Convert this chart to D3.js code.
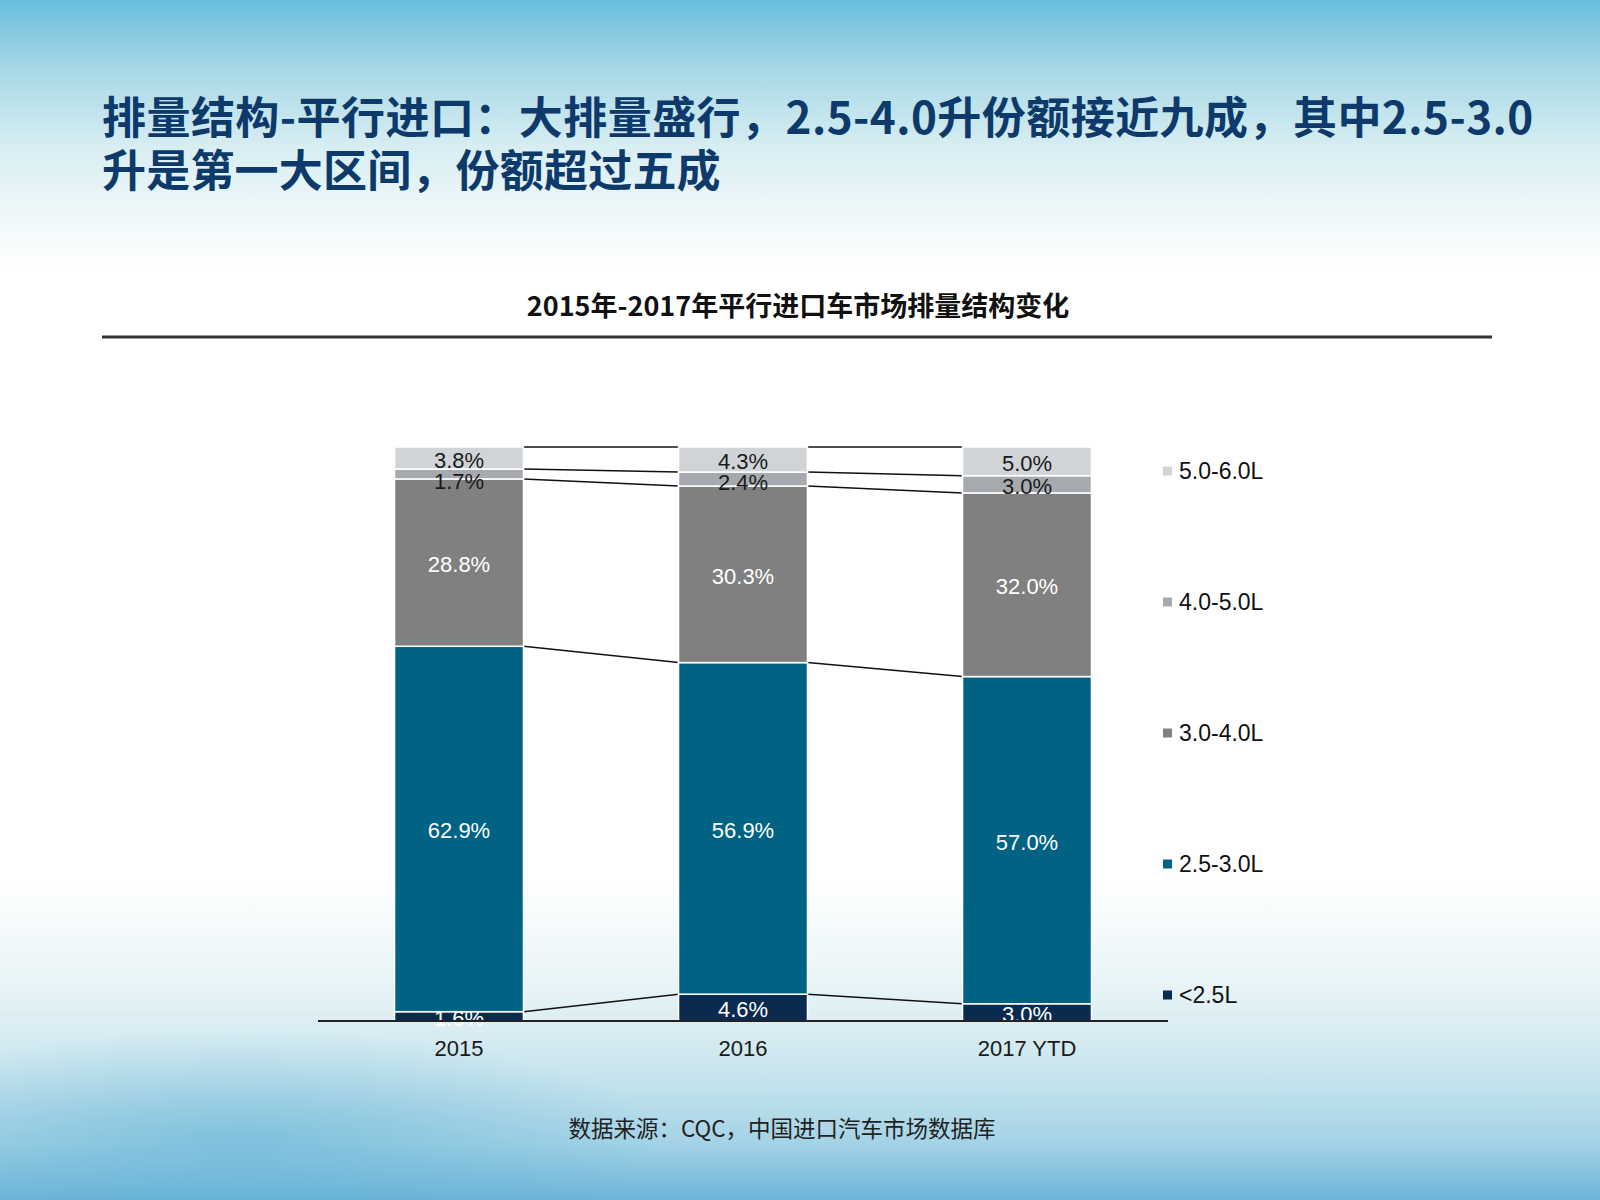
<!DOCTYPE html>
<html>
<head>
<meta charset="utf-8">
<script src="https://cdn.jsdelivr.net/npm/d3@7"></script>
<style>
  body { margin: 0; padding: 0; }
  svg { display: block; }
</style>
</head>
<body>
<script>
// chart data
const years = ["2015", "2016", "2017 YTD"];
const bands = ["<2.5L", "2.5-3.0L", "3.0-4.0L", "4.0-5.0L", "5.0-6.0L"];
const under25 = [1.6, 4.6, 3.0];
const from25to30 = [62.9, 56.9, 57.0];
const from30to40 = [28.8, 30.3, 32.0];
const from40to50 = [1.7, 2.4, 3.0];
const from50to60 = [3.8, 4.3, 5.0];

const colors = ["#0b2a50", "#006384", "#808080", "#a6a9ae", "#d1d4d7"];
const labelColors = ["#fff", "#fff", "#fff", "#1a1a1a", "#1a1a1a"];

const mainTitle = ["排量结构-平行进口：大排量盛行，2.5-4.0升份额接近九成，其中2.5-3.0",
                   "升是第一大区间，份额超过五成"];
const chartTitle = "2015年-2017年平行进口车市场排量结构变化";
const source = "数据来源：CQC，中国进口汽车市场数据库";

const W = 1600, H = 1200;
const cjk = "'Noto Sans CJK SC', 'Noto Sans', sans-serif";
const latin = "'Liberation Sans', Arial, sans-serif";

const svg = d3.select("body").append("svg").attr("width", W).attr("height", H);
const defs = svg.append("defs");

function drawBackground() {
    let top = defs.append("linearGradient").attr("id", "bgTop")
        .attr("x1", 0).attr("y1", 0).attr("x2", 0).attr("y2", 1);
    [["0%", "#69bedd"], ["25%", "#a6d8e6"], ["55%", "#d8eef2"], ["85%", "#f4fafb"], ["100%", "#ffffff"]]
        .forEach(s => top.append("stop").attr("offset", s[0]).attr("stop-color", s[1]));

    let bottom = defs.append("linearGradient").attr("id", "bgBottom")
        .attr("x1", 0).attr("y1", 0).attr("x2", 0).attr("y2", 1);
    [["0%", "#ffffff"], ["35%", "#e6f3f6"], ["60%", "#c9e5ee"], ["82%", "#a4d3e6"], ["100%", "#6cb4d8"]]
        .forEach(s => bottom.append("stop").attr("offset", s[0]).attr("stop-color", s[1]));

    let blob = defs.append("radialGradient").attr("id", "bgBlob")
        .attr("cx", 0.5).attr("cy", 0.5).attr("r", 0.5);
    [["0%", "#5aaed3", 0.5], ["100%", "#5aaed3", 0]]
        .forEach(s => blob.append("stop").attr("offset", s[0]).attr("stop-color", s[1]).attr("stop-opacity", s[2]));

    svg.append("rect").attr("width", W).attr("height", H).attr("fill", "#fff");
    svg.append("rect").attr("width", W).attr("height", 270).attr("fill", "url(#bgTop)");
    svg.append("rect").attr("y", 880).attr("width", W).attr("height", H - 880).attr("fill", "url(#bgBottom)");
    svg.append("ellipse").attr("cx", 240).attr("cy", 1140).attr("rx", 420).attr("ry", 110)
        .attr("fill", "url(#bgBlob)");
}

function drawTitles() {
    svg.append("g").selectAll("text").data(mainTitle).join("text")
        .attr("x", 102)
        .attr("y", (d, i) => 115 + i * 53)
        .attr("dominant-baseline", "central")
        .style("font", `bold 44px ${cjk}`)
        .style("letter-spacing", (d, i) => i === 0 ? "0.45px" : "0.2px")
        .attr("fill", "#0d3a6b")
        .text(d => d);

    svg.append("text")
        .attr("x", 798).attr("y", 304)
        .attr("text-anchor", "middle")
        .attr("dominant-baseline", "central")
        .style("font", `bold 27px ${cjk}`)
        .attr("fill", "#111")
        .text(chartTitle);

    svg.append("line")
        .attr("x1", 102).attr("x2", 1492).attr("y1", 337).attr("y2", 337)
        .attr("stroke", "#333").attr("stroke-width", 3);

    svg.append("text")
        .attr("x", 782).attr("y", 1127)
        .attr("text-anchor", "middle")
        .attr("dominant-baseline", "central")
        .style("font", `22.5px ${cjk}`)
        .attr("fill", "#222")
        .text(source);
}

function drawChart() {
    let series = [under25, from25to30, from30to40, from40to50, from50to60];
    let rows = years.map((y, i) => {
        let r = { year: y };
        bands.forEach((b, j) => r[b] = series[j][i]);
        return r;
    });
    let stacked = d3.stack().keys(bands).offset(d3.stackOffsetExpand)(rows);

    let x = d3.scaleBand(years, [317, 1169]).paddingInner(0.546).paddingOuter(0.273);
    let y = d3.scaleLinear([0, 1], [1021, 447]);
    let bw = x.bandwidth();

    let g = svg.append("g");

    // series lines between bars
    let links = [];
    stacked.forEach(s => {
        for (let i = 0; i < years.length - 1; i++) {
            links.push({ x1: x(years[i]) + bw, y1: y(s[i][1]), x2: x(years[i + 1]), y2: y(s[i + 1][1]) });
        }
    });
    g.selectAll("line.link").data(links).join("line")
        .attr("class", "link")
        .attr("x1", d => d.x1).attr("y1", d => d.y1)
        .attr("x2", d => d.x2).attr("y2", d => d.y2)
        .attr("stroke", "#111").attr("stroke-width", 1.5);

    let layers = g.selectAll("g.layer").data(stacked).join("g")
        .attr("class", "layer")
        .attr("fill", (d, i) => colors[i]);

    layers.selectAll("rect").data(d => d).join("rect")
        .attr("x", d => x(d.data.year))
        .attr("y", d => y(d[1]))
        .attr("width", bw)
        .attr("height", d => y(d[0]) - y(d[1]))
        .attr("stroke", "#fff")
        .attr("stroke-width", 1.5);

    // axis line and category labels
    let axis = g.append("g").attr("transform", "translate(0,1021)")
        .call(d3.axisBottom(x).tickSize(0).tickPadding(19).tickSizeOuter(0));
    axis.select(".domain").attr("d", "M318,0H1168").attr("stroke", "#222").attr("stroke-width", 2);
    axis.selectAll("text").style("font", `22px ${latin}`).attr("fill", "#1a1a1a");

    // value label positions, pushed down when too close to the label above
    let labelY = stacked.map(s => s.map(d => (y(d[0]) + y(d[1])) / 2 + 2));
    for (let i = 0; i < years.length; i++) {
        for (let k = bands.length - 2; k >= 0; k--) {
            labelY[k][i] = Math.max(labelY[k][i], labelY[k + 1][i] + 21);
            if (k < 3) labelY[k][i] = (y(stacked[k][i][0]) + y(stacked[k][i][1])) / 2 + 2;
        }
    }

    layers.each(function (s, k) {
        d3.select(this).selectAll("text").data(s).join("text")
            .attr("x", d => x(d.data.year) + bw / 2)
            .attr("y", (d, i) => labelY[k][i])
            .attr("text-anchor", "middle")
            .attr("dominant-baseline", "central")
            .style("font", `22px ${latin}`)
            .attr("fill", labelColors[k])
            .text(d => d.data[s.key].toFixed(1) + "%");
    });

    // legend, top band first
    let ly = d3.scalePoint(bands.slice().reverse(), [471, 995]);
    let legend = g.selectAll("g.legend").data(bands).join("g")
        .attr("class", "legend")
        .attr("transform", d => `translate(1163,${ly(d)})`);
    legend.append("rect")
        .attr("x", 0).attr("y", -4.5).attr("width", 9).attr("height", 9)
        .attr("fill", (d, i) => colors[i]);
    legend.append("text")
        .attr("x", 16).attr("y", 0)
        .attr("dominant-baseline", "central")
        .style("font", `23px ${latin}`)
        .attr("fill", "#111")
        .text(d => d);
}

drawBackground();
drawTitles();
drawChart();
</script>
</body>
</html>
